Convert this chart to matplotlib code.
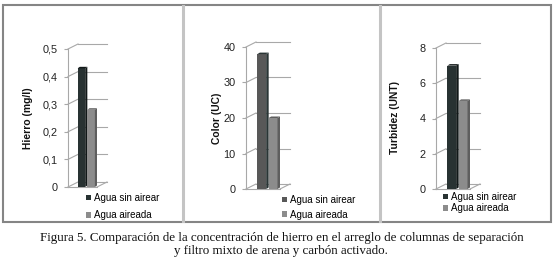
import matplotlib.pyplot as plt
from matplotlib.patches import Rectangle, Polygon
from matplotlib.lines import Line2D

# data
series = ['Agua sin airear', 'Agua aireada']
hierro = [0.43, 0.28]
color_uc = [38, 20]
turbidez = [7, 5]

hierro_ticks = [0, 0.1, 0.2, 0.3, 0.4, 0.5]
hierro_labels = ['0', '0,1', '0,2', '0,3', '0,4', '0,5']
color_ticks = [0, 10, 20, 30, 40]
color_labels = ['0', '10', '20', '30', '40']
turb_ticks = [0, 2, 4, 6, 8]
turb_labels = ['0', '2', '4', '6', '8']

ylabels = ['Hierro (mg/l)', 'Color (UC)', 'Turbidez (UNT)']
caption = ('Figura 5. Comparación de la concentración de hierro en el arreglo de columnas de separación\n'
           'y filtro mixto de arena y carbón activado.')

W, H = 554, 264
fig = plt.figure(figsize=(W / 100, H / 100), dpi=100)
plt.rcParams['font.family'] = ['Liberation Sans', 'DejaVu Sans']


def fx(px):
    return px / W


def fy(py):
    return 1 - py / H


# outer frame and panel dividers
fig.add_artist(Rectangle((fx(3), fy(222)), fx(551) - fx(3), fy(5) - fy(222),
                         transform=fig.transFigure, fill=False, ec='#858585', lw=1.5))
for xd in [183, 380]:
    fig.add_artist(Line2D([fx(xd), fx(xd)], [fy(6), fy(221)], transform=fig.transFigure,
                          color='#c4c4c4', lw=2.2))

grid_c = '#a8a8a8'
panels = [
    # values, ticks, labels, axis x, right x, y0, ytop, colours, label x, legend pos, spacing
    dict(vals=hierro, ticks=hierro_ticks, labs=hierro_labels, left=68, right=97, y0=187, ytop=49,
         cols=['#283232', '#8c8c8c'], side=['#111818', '#5e5e5e'], lx=28, leg=(86, 193), sp=0.75),
    dict(vals=color_uc, ticks=color_ticks, labs=color_labels, left=246, right=280, y0=189, ytop=47,
         cols=['#585858', '#8c8c8c'], side=['#2a3535', '#5e5e5e'], lx=217, leg=(282, 195), sp=0.5),
    dict(vals=turbidez, ticks=turb_ticks, labs=turb_labels, left=436, right=470, y0=189, ytop=48,
         cols=['#283232', '#8c8c8c'], side=['#111818', '#5e5e5e'], lx=395, leg=(443, 192), sp=0.12),
]

for i, p in enumerate(panels):
    ax = fig.add_axes([fx(p['left']), fy(p['y0']), fx(p['right']) - fx(p['left']),
                       (p['y0'] - p['ytop']) / H])
    ymax = p['ticks'][-1]
    ax.set_xlim(-1.5, 1.5)
    ax.set_ylim(0, ymax)
    ax.patch.set_visible(False)
    for s in ['top', 'right', 'bottom']:
        ax.spines[s].set_visible(False)
    ax.spines['left'].set_color(grid_c)
    ax.spines['left'].set_linewidth(0.8)
    ax.set_xticks([])
    ax.set_yticks(p['ticks'])
    ax.set_yticklabels(p['labs'])
    ax.tick_params(axis='y', length=3, width=0.8, color=grid_c, pad=4.5, labelsize=7.8,
                   labelcolor='#222222')

    ppx = (p['right'] - p['left']) / 3.0
    ppy = (p['y0'] - p['ytop']) / ymax
    ddx, ddy = 10 / ppx, 5 / ppy

    # left wall diagonals and back wall gridlines
    for t in p['ticks']:
        ax.plot([-1.5, -1.5 + ddx], [t, t + ddy], color=grid_c, lw=0.8, clip_on=False)
        ax.plot([-1.5 + ddx, 1.5 + ddx], [t + ddy, t + ddy], color=grid_c, lw=0.8, clip_on=False)
    # floor
    ax.plot([-1.5, 1.5], [0, 0], color=grid_c, lw=0.8, clip_on=False)
    ax.plot([1.5, 1.5 + ddx], [0, ddy], color=grid_c, lw=0.8, clip_on=False)

    # 3d-looking columns
    handles = []
    sdy = 1.5 / ppy
    for j, v in enumerate(p['vals']):
        x = -0.5 + j
        b = ax.bar(x, v, width=0.78, align='edge', color=p['cols'][j], label=series[j],
                   zorder=3, clip_on=False)
        handles.append(b)
        ax.add_patch(Polygon([(x + 0.78, 0), (x + 0.78, v), (x + 1.0, v + sdy), (x + 1.0, sdy)],
                             closed=True, fc=p['side'][j], ec='none', zorder=3, clip_on=False))
        ax.add_patch(Polygon([(x, v), (x + 0.78, v), (x + 1.0, v + sdy), (x + 0.22, v + sdy)],
                             closed=True, fc=p['side'][j], ec='none', zorder=3, clip_on=False))

    fig.text(fx(p['lx']), fy(118), ylabels[i], rotation=90, ha='center', va='center',
             fontsize=7.4, fontweight='bold', color='#111111')
    ax.legend(handles=handles, loc='upper left', bbox_to_anchor=(fx(p['leg'][0]), fy(p['leg'][1])),
              bbox_transform=fig.transFigure, frameon=False, fontsize=7, handlelength=0.55,
              handleheight=0.55, handletextpad=0.3, labelspacing=p['sp'], borderpad=0,
              borderaxespad=0)

fig.text(0.508, fy(244.5), caption, ha='center', va='center', family='Liberation Serif',
         fontsize=9.4, linespacing=1.1, color='#111111')

fig.savefig('out.png', dpi=100)
